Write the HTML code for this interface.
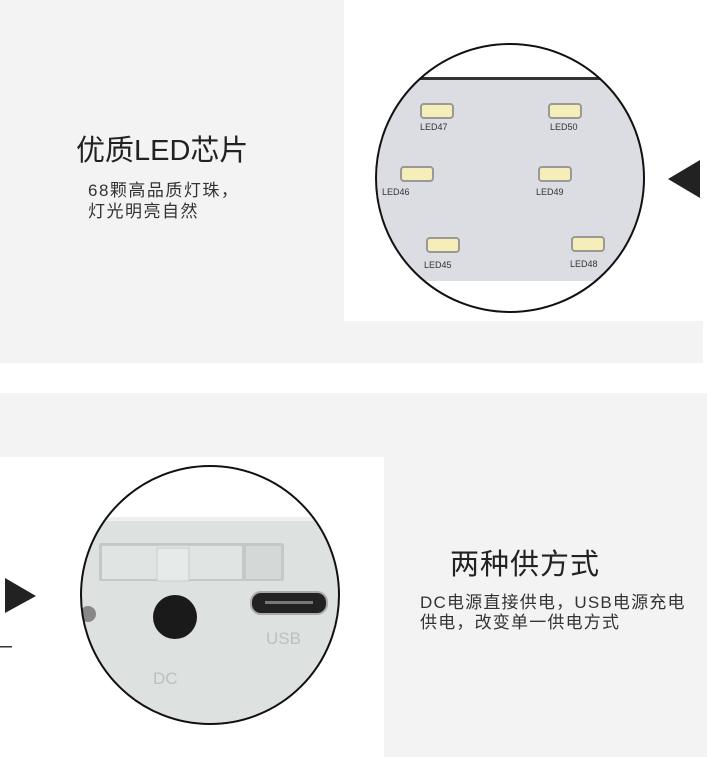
<!DOCTYPE html>
<html><head><meta charset="utf-8"><style>
body{margin:0;width:707px;height:757px;background:#fff;position:relative;overflow:hidden;font-family:"Liberation Sans","Noto Sans CJK SC",sans-serif;}
.a{position:absolute;}
</style></head><body>
<div class="a" style="left:0;top:0;width:703px;height:363px;background:#f3f3f3"></div>
<div class="a" style="left:344px;top:0;width:359px;height:321px;background:#fff"></div>
<div class="a" style="left:76px;top:127px;font-size:29px;color:#222;white-space:nowrap">优质LED芯片</div>
<div class="a" style="left:88px;top:180px;font-size:17px;letter-spacing:1.5px;line-height:21px;color:#333;white-space:nowrap">68颗高品质灯珠，<br>灯光明亮自然</div>
<svg class="a" style="left:0;top:0" width="707" height="757">
<defs>
<clipPath id="c1"><circle cx="510" cy="178" r="134"/></clipPath>
<clipPath id="c2"><circle cx="210" cy="595" r="129"/></clipPath>
</defs>
<g clip-path="url(#c1)">
<rect x="370" y="40" width="290" height="280" fill="#fff"/>
<rect x="370" y="77" width="290" height="204" fill="#dcdce3"/>
<rect x="370" y="77" width="290" height="3" fill="#333"/>
<g fill="#f5eeb8" stroke="#999" stroke-width="2">
<rect x="421" y="104" width="32" height="14" rx="3"/>
<rect x="549" y="104" width="32" height="14" rx="3"/>
<rect x="401" y="167" width="32" height="14" rx="3"/>
<rect x="539" y="167" width="32" height="14" rx="3"/>
<rect x="427" y="238" width="32" height="14" rx="3"/>
<rect x="572" y="237" width="32" height="14" rx="3"/>
</g>
<g font-size="9" fill="#333" font-family="Liberation Sans">
<text x="420" y="130">LED47</text><text x="550" y="130">LED50</text>
<text x="382" y="195">LED46</text><text x="536" y="195">LED49</text>
<text x="424" y="268">LED45</text><text x="570" y="267">LED48</text>
</g>
</g>
<circle cx="510" cy="178" r="134" fill="none" stroke="#111" stroke-width="2"/>
<polygon points="700,160 700,198 668,179" fill="#222"/>
<rect x="0" y="393" width="707" height="364" fill="#f3f3f3"/>
<rect x="0" y="457" width="384" height="300" fill="#fff"/>
<g clip-path="url(#c2)">
<rect x="78" y="517" width="270" height="220" fill="#dde1e0"/>
<rect x="78" y="517" width="270" height="4" fill="#eef0ef"/>
<rect x="99" y="543" width="185" height="38" fill="#c4c8c7" rx="2"/>
<rect x="102" y="546" width="140" height="33" fill="#e0e4e3"/>
<rect x="157" y="548" width="32" height="33" fill="#e6eae9" stroke="#c8cccb"/>
<rect x="246" y="546" width="35" height="33" fill="#d4d8d7"/>
<circle cx="175" cy="617" r="22" fill="#1a1a1a"/>
<rect x="251" y="592" width="76" height="22" rx="10" fill="#222" stroke="#aaa" stroke-width="2"/>
<rect x="265" y="601" width="48" height="3" fill="#777"/>
<circle cx="88" cy="614" r="8" fill="#888"/>
<text x="266" y="644" font-size="17" fill="#bcc0bf" font-family="Liberation Sans">USB</text>
<text x="153" y="684" font-size="17" fill="#bcc0bf" font-family="Liberation Sans">DC</text>
</g>
<circle cx="210" cy="595" r="129" fill="none" stroke="#111" stroke-width="2"/>
<polygon points="5,578 5,613 36,596" fill="#222"/>
<rect x="0" y="646" width="12" height="1.5" fill="#333"/>
</svg>
<div class="a" style="left:450px;top:541px;font-size:29px;letter-spacing:1px;color:#222;white-space:nowrap">两种供方式</div>
<div class="a" style="left:420px;top:593px;font-size:17px;letter-spacing:1.2px;line-height:20px;color:#333;white-space:nowrap">DC电源直接供电，USB电源充电<br>供电，改变单一供电方式</div>
</body></html>
